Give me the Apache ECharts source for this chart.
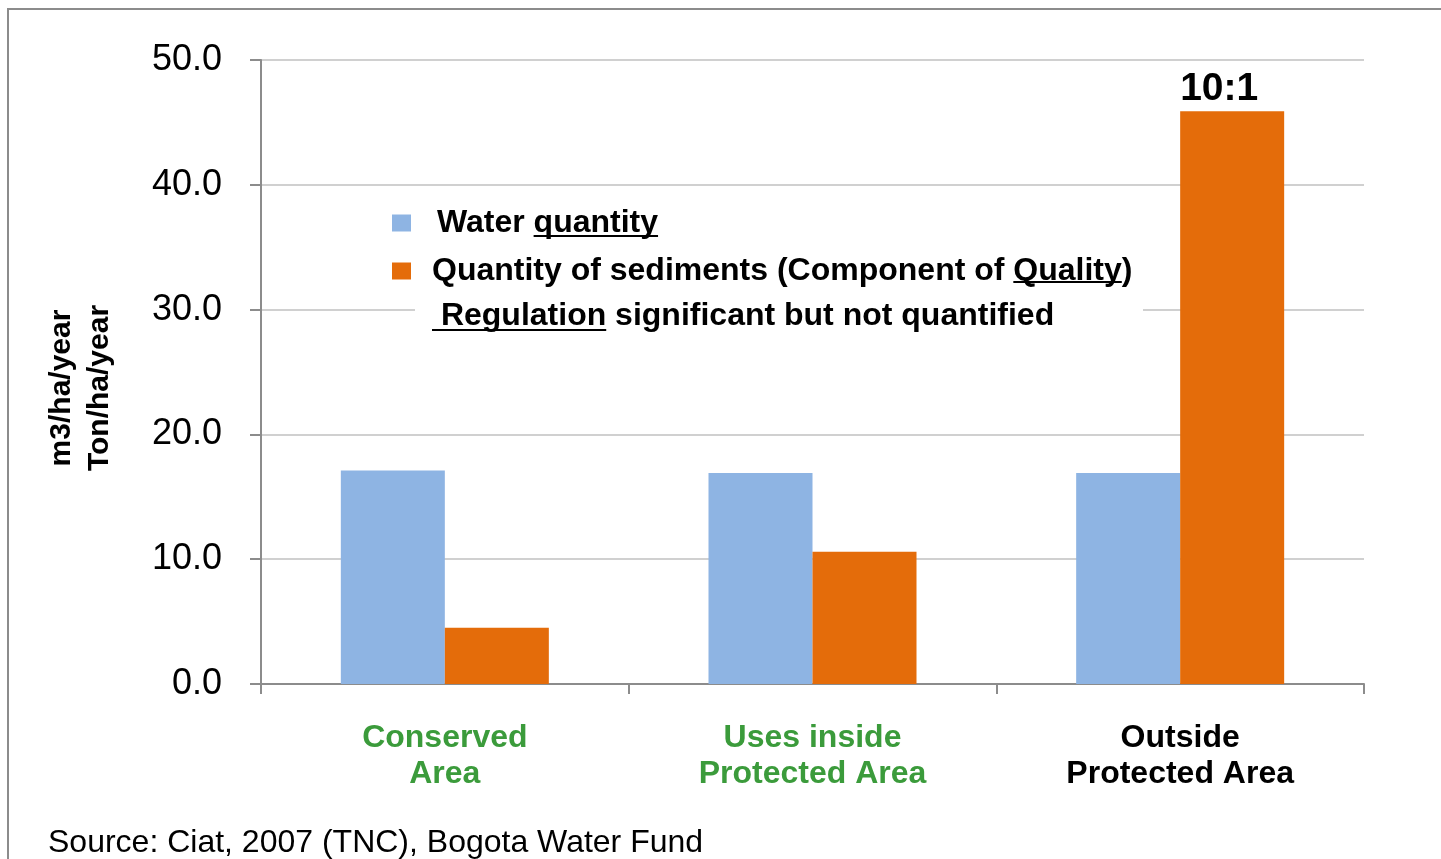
<!DOCTYPE html>
<html>
<head>
<meta charset="utf-8">
<title>Water quantity and sediments</title>
<script src="https://cdn.jsdelivr.net/npm/echarts@6/dist/echarts.min.js"></script>
<style>
  html, body { margin: 0; padding: 0; background: #fff; }
  #main { width: 1441px; height: 859px; }
</style>
</head>
<body>
<div id="main"></div>
<script>
// data
var categories = ['Conserved\nArea', 'Uses inside\nProtected Area', 'Outside\nProtected Area'];
var waterQuantity = [17.1, 16.9, 16.9];
var sediments = [4.5, 10.6, 45.9];
var ratioLabel = '10:1';
var yTicks = { min: 0, max: 50, interval: 10 };

var FONT = '"Liberation Sans", Arial, sans-serif';

// measure text so underlines sit under the right words
var ctx = document.createElement('canvas').getContext('2d');
function textW(s, size) {
    ctx.font = 'bold ' + size + 'px ' + FONT;
    return ctx.measureText(s).width;
}

var legendSize = 32;
var legendLeft = 392;
var text1X = legendLeft + 19 + 5 + 21;
var text2X = legendLeft + 19 + 5 + 16;

var underlines = [];
// "quantity" in first item
var x1 = text1X + textW('Water ', legendSize);
underlines.push([x1, 236, x1 + textW('quantity', legendSize)]);
// "Quality" in second item
var x2 = text2X + textW('Quantity of sediments (Component of ', legendSize);
underlines.push([x2, 282, x2 + textW('Quality', legendSize)]);
// " Regulation" in third line
underlines.push([432, 330, 432 + textW(' Regulation', legendSize)]);

var myChart = echarts.init(document.getElementById('main'));

var graphics = [
    // outer frame
    { type: 'rect', shape: { x: 8, y: 9, width: 1460, height: 880 },
      style: { fill: null, stroke: '#8c8c8c', lineWidth: 2 }, silent: true },
    // white box behind legend (hides grid lines)
    { type: 'rect', z: 1, shape: { x: 415, y: 196, width: 728, height: 142 },
      style: { fill: '#fff' }, silent: true },
    { type: 'text', z: 5, left: 432, top: 300,
      style: { text: ' Regulation significant but not quantified', fill: '#000',
               font: 'bold ' + legendSize + 'px ' + FONT } },
    { type: 'text', left: 48, top: 827,
      style: { text: 'Source: Ciat, 2007 (TNC), Bogota Water Fund', fill: '#000',
               font: '32px ' + FONT } }
];
underlines.forEach(function (u) {
    graphics.push({ type: 'line', z: 5, shape: { x1: u[0], y1: u[1], x2: u[2], y2: u[1] },
                    style: { stroke: '#000', lineWidth: 2 }, silent: true });
});

var sedData = sediments.map(function (v, i) {
    if (i === sediments.length - 1) {
        return { value: v, label: { show: true, position: 'top', distance: 2, offset: [-13, 0],
                 formatter: ratioLabel, fontSize: 39, fontWeight: 'bold', color: '#000',
                 fontFamily: FONT } };
    }
    return v;
});

var option = {
    animation: false,
    textStyle: { fontFamily: FONT },
    grid: { left: 261, right: 77, top: 60, bottom: 175, outerBoundsMode: 'none' },
    legend: {
        orient: 'vertical',
        left: legendLeft,
        top: 207,
        padding: 0,
        itemWidth: 19,
        itemHeight: 17,
        itemGap: 16,
        icon: 'rect',
        z: 5,
        data: [
            { name: 'Water quantity' },
            { name: 'Quantity of sediments (Component of Quality)',
              textStyle: { padding: [0, 0, 0, 16] } }
        ],
        textStyle: { fontSize: legendSize, fontWeight: 'bold', color: '#000',
                     lineHeight: 30, padding: [0, 0, 0, 21], fontFamily: FONT }
    },
    graphic: graphics,
    xAxis: {
        type: 'category',
        data: categories,
        axisLine: { lineStyle: { color: '#8c8c8c', width: 2 } },
        axisTick: { show: true, length: 10, lineStyle: { color: '#8c8c8c', width: 2 } },
        axisLabel: {
            margin: 36,
            interval: 0,
            fontSize: 32,
            fontWeight: 'bold',
            lineHeight: 36,
            color: function (value, index) { return index < 2 ? '#3b9b3b' : '#000'; },
            fontFamily: FONT
        }
    },
    yAxis: {
        type: 'value',
        min: yTicks.min,
        max: yTicks.max,
        interval: yTicks.interval,
        name: 'm3/ha/year\nTon/ha/year',
        nameLocation: 'middle',
        nameGap: 142,
        nameTextStyle: { fontSize: 30, fontWeight: 'bold', color: '#000', lineHeight: 38,
                         padding: [0, 32, 0, 0], fontFamily: FONT },
        axisLine: { show: true, lineStyle: { color: '#8c8c8c', width: 2 } },
        axisTick: { show: true, length: 11, lineStyle: { color: '#8c8c8c', width: 2 } },
        splitLine: { lineStyle: { color: '#d0d0d0', width: 2 } },
        axisLabel: {
            margin: 39,
            fontSize: 36,
            color: '#000',
            fontFamily: FONT,
            formatter: function (v) { return v.toFixed(1); }
        }
    },
    series: [
        {
            name: 'Water quantity',
            type: 'bar',
            data: waterQuantity,
            barWidth: 104,
            barGap: '0%',
            itemStyle: { color: '#8eb4e3' }
        },
        {
            name: 'Quantity of sediments (Component of Quality)',
            type: 'bar',
            data: sedData,
            barWidth: 104,
            itemStyle: { color: '#e46c0a' }
        }
    ]
};

myChart.setOption(option);
</script>
</body>
</html>
